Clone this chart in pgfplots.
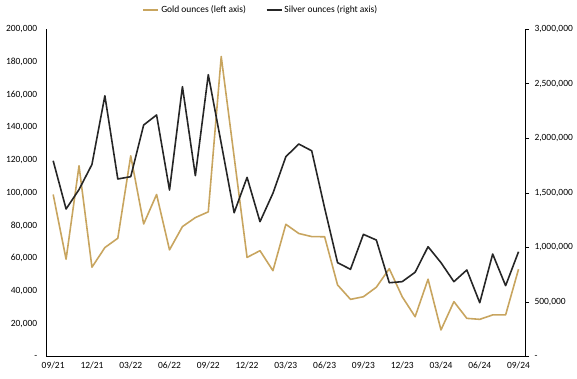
\documentclass[border=0pt]{standalone}
\usepackage{pgfplots}
\pgfplotsset{compat=1.18}
\usepackage{fontspec}
\setmainfont{Carlito}
\definecolor{gold}{RGB}{200,165,95}
\definecolor{silver}{RGB}{38,38,38}
\pgfplotstableread{
i gold silver
0 99000 1794000
1 59500 1352000
2 116500 1530000
3 54600 1760000
4 66600 2389000
5 72300 1627000
6 122600 1648000
7 81000 2121000
8 99000 2213000
9 65200 1526000
10 79400 2472000
11 84900 1657000
12 88400 2582000
13 183200 1954000
14 122000 1318000
15 60600 1642000
16 64700 1236000
17 52500 1496000
18 80800 1831000
19 75200 1947000
20 73300 1885000
21 73200 1361000
22 43800 861000
23 35000 800000
24 36600 1120000
25 42400 1068000
26 53700 677000
27 36600 687000
28 24400 773000
29 47300 1007000
30 16300 861000
31 33600 687000
32 23400 794000
33 22800 494000
34 25500 940000
35 25500 650000
36 53400 961000
}\data
\begin{document}
\begin{tikzpicture}[font=\fontsize{9.5}{11}\selectfont]
\path[use as bounding box] (0,0) rectangle (577bp,379bp);
\begin{axis}[
  at={(46.7bp,22.3bp)}, anchor=south west,
  width=478.3bp, height=327.7bp, scale only axis,
  xmin=-0.5, xmax=36.5, ymin=0, ymax=200000,
  axis x line*=bottom, axis y line*=left,
  axis line style={black, line width=0.8pt},
  xtick={0,3,...,36},
  xticklabels={09/21,12/21,03/22,06/22,09/22,12/22,03/23,06/23,09/23,12/23,03/24,06/24,09/24},
  xtick style={draw=none},
  extra x ticks={-0.5,2.5,5.5,8.5,11.5,14.5,17.5,20.5,23.5,26.5,29.5,32.5,35.5},
  extra x tick labels={},
  extra x tick style={tick style={draw=black, line width=0.6pt}, major tick length=4bp, tick align=outside},
  xticklabel style={yshift=-2bp},
  ytick={0,20000,...,200000},
  yticklabels={-,{20,000},{40,000},{60,000},{80,000},{100,000},{120,000},{140,000},{160,000},{180,000},{200,000}},
  ytick style={draw=none},
  yticklabel style={xshift=-6bp},
  scaled y ticks=false,
  /pgf/number format/assume math mode=true,
  clip=false,
]
\addplot[gold, line width=1.6pt, line join=round] table[x=i, y=gold] {\data};
\end{axis}
\begin{axis}[
  at={(46.7bp,22.3bp)}, anchor=south west,
  width=478.3bp, height=327.7bp, scale only axis,
  xmin=-0.5, xmax=36.5, ymin=0, ymax=3000000,
  axis x line=none, axis y line*=right,
  axis line style={black, line width=0.8pt},
  ytick={0,500000,...,3000000},
  yticklabels={-,{500,000},{1,000,000},{1,500,000},{2,000,000},{2,500,000},{3,000,000}},
  ytick style={draw=black, line width=0.6pt},
  tick align=outside, major tick length=4bp,
  yticklabel style={xshift=2bp},
  scaled y ticks=false,
  /pgf/number format/assume math mode=true,
  clip=false,
  legend columns=2,
  legend style={draw=none, fill=none, at={(0.448,1.058)}, anchor=center,
    /tikz/every even column/.append style={column sep=18bp}},
  legend image code/.code={\draw[#1] (0bp,0bp) -- (15bp,0bp);},
]
\addlegendimage{gold, line width=1.6pt}
\addlegendentry{Gold ounces (left axis)}
\addplot[silver, line width=1.6pt, line join=round] table[x=i, y=silver] {\data};
\addlegendentry{Silver ounces (right axis)}
\end{axis}
\end{tikzpicture}
\end{document}
